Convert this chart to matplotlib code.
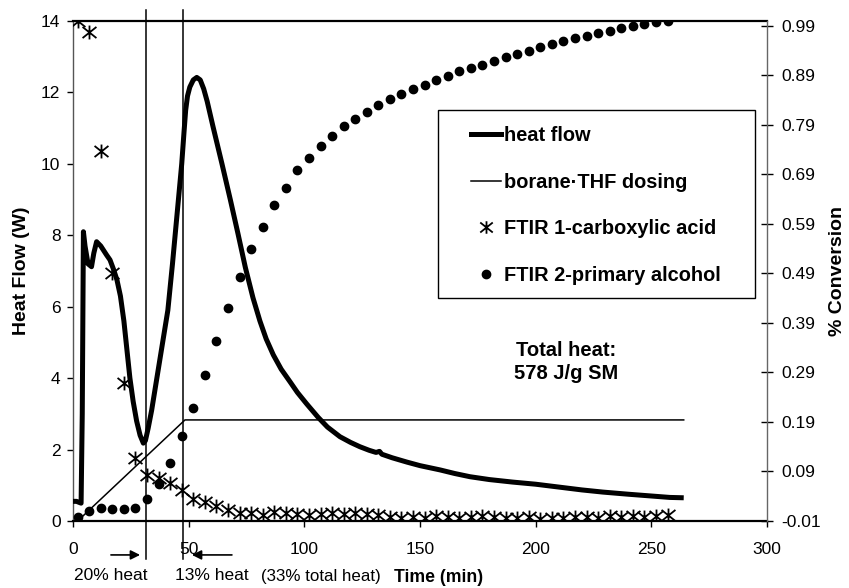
import matplotlib
matplotlib.use("Agg")
import matplotlib.pyplot as plt
from matplotlib.lines import Line2D
from matplotlib.path import Path
from matplotlib.patches import Rectangle

plt.rcParams['font.family'] = ['Liberation Sans', 'DejaVu Sans']

# ---------------- data ----------------
heat_t = [0, 1.5, 3.5, 4.0, 4.5, 5.2, 6.5, 8.0, 9.0, 10.2, 12.0, 14.5, 16.0, 17.5,
          19.0, 20.5, 22.0, 23.3, 24.6, 26.0, 27.5, 29.0, 30.4, 31.3, 32.5, 34.0,
          36.0, 38.5, 41.0, 43.0, 45.0, 47.0, 48.0, 48.7, 49.5, 50.5, 52.0, 53.5,
          55.0, 56.5, 58.0, 60.5, 64.4, 68.0, 71.3, 74.5, 77.8, 80.8, 83.5, 86.6,
          90.0, 93.8, 97.0, 101.0, 106.0, 110.0, 115.4, 120.0, 124.0, 128.0,
          131.0, 132.5, 133.5, 138.0, 144.3, 150.0, 158.7, 165.0, 171.6, 180.0,
          190.0, 200.0, 210.0, 220.0, 229.0, 240.0, 250.0, 258.0, 264.0]
heat_w = [0.55, 0.55, 0.5, 3.0, 8.1, 7.7, 7.2, 7.12, 7.5, 7.82, 7.7, 7.45, 7.31,
          7.05, 6.75, 6.3, 5.6, 4.8, 4.0, 3.35, 2.8, 2.4, 2.18, 2.25, 2.6, 3.1,
          3.9, 4.9, 5.9, 7.2, 8.6, 10.0, 10.9, 11.5, 11.9, 12.15, 12.35, 12.42,
          12.35, 12.1, 11.75, 11.05, 10.0, 9.0, 8.05, 7.1, 6.25, 5.6, 5.1, 4.65,
          4.25, 3.9, 3.6, 3.28, 2.90, 2.63, 2.36, 2.2, 2.08, 1.98, 1.92, 1.95,
          1.87, 1.77, 1.65, 1.55, 1.43, 1.33, 1.24, 1.16, 1.09, 1.03, 0.95,
          0.87, 0.81, 0.75, 0.70, 0.66, 0.65]

dose_t = [2.0, 48.4, 264.0]
dose_v = [0.0, 2.83, 2.83]

ftir_t = [2, 7, 12, 17, 22, 27, 32, 37, 42, 47, 52, 57, 62, 67, 72, 77, 82, 87,
          92, 97, 102, 107, 112, 117, 122, 127, 132, 137, 142, 147, 152, 157,
          162, 167, 172, 177, 182, 187, 192, 197, 202, 207, 212, 217, 222, 227,
          232, 237, 242, 247, 252, 257]

acid = [1.000, 0.978, 0.738, 0.491, 0.268, 0.118, 0.082, 0.077, 0.067, 0.053,
        0.035, 0.028, 0.021, 0.012, 0.006, 0.006, 0.003, 0.009, 0.006, 0.004,
        0.003, 0.004, 0.006, 0.004, 0.007, 0.005, 0.002, -0.001, -0.003, -0.001,
        -0.003, 0.000, -0.001, -0.003, -0.002, 0.001, -0.001, -0.003, -0.004,
        -0.001, -0.005, -0.004, -0.003, -0.001, -0.002, -0.003, 0.000, -0.001,
        0.000, -0.001, 0.000, 0.002]

alcohol = [-0.001, 0.010, 0.016, 0.014, 0.014, 0.017, 0.035, 0.065, 0.108, 0.162,
           0.219, 0.285, 0.354, 0.421, 0.483, 0.539, 0.584, 0.628, 0.663, 0.699,
           0.723, 0.747, 0.768, 0.788, 0.803, 0.817, 0.830, 0.842, 0.852, 0.862,
           0.871, 0.881, 0.889, 0.898, 0.906, 0.911, 0.919, 0.927, 0.933, 0.940,
           0.947, 0.953, 0.960, 0.965, 0.970, 0.976, 0.980, 0.985, 0.990, 0.994,
           0.997, 1.000]

dose_marks = [31.7, 47.6]

x_ticks = [0, 50, 100, 150, 200, 250, 300]
y_ticks = [0, 2, 4, 6, 8, 10, 12, 14]
r_ticks = [-0.01, 0.09, 0.19, 0.29, 0.39, 0.49, 0.59, 0.69, 0.79, 0.89, 0.99]

# Excel-like asterisk marker: X plus vertical bar
AST = Path([(-1, -0.8), (1, 0.8), (-1, 0.8), (1, -0.8), (0, -1), (0, 1)],
           [Path.MOVETO, Path.LINETO, Path.MOVETO, Path.LINETO, Path.MOVETO, Path.LINETO])

# ---------------- figure ----------------
W, H = 849, 588
fig = plt.figure(figsize=(W / 100, H / 100), dpi=100)
L, R, T, B = 73, 767, 21, 521
ax = fig.add_axes([L / W, 1 - B / H, (R - L) / W, (B - T) / H])
ax2 = ax.twinx()

ax.set_xlim(0, 300)
ax.set_ylim(0, 14)
ax2.set_ylim(-0.01, 1.0)

ax.plot(heat_t, heat_w, color='black', lw=3.6, solid_joinstyle='round',
        solid_capstyle='butt', zorder=4)
ax.plot(dose_t, dose_v, color='black', lw=1.1, zorder=3)
for xv in dose_marks:
    ax.plot([xv, xv], [-1.05, 14.3], color='black', lw=1.1, clip_on=False, zorder=3)

ax2.plot(ftir_t, acid, linestyle='none', marker=AST, markersize=10,
         markeredgewidth=1.3, color='black', zorder=5)
ax2.plot(ftir_t, alcohol, linestyle='none', marker='o', markersize=6,
         color='black', zorder=5)

# spines
ax.spines['top'].set_color('black')
ax.spines['bottom'].set_color('black')
ax.spines['top'].set_linewidth(1.6)
ax.spines['bottom'].set_linewidth(1.6)
ax.spines['left'].set_linewidth(1.0)
ax.spines['left'].set_color('#555555')
ax.spines['right'].set_visible(False)
ax2.spines['right'].set_color('#666666')
ax2.spines['right'].set_linewidth(1.0)
for s in ['left', 'top', 'bottom']:
    ax2.spines[s].set_visible(False)

ax.set_xticks(x_ticks)
ax.set_xticklabels([str(v) for v in x_ticks])
ax.set_yticks(y_ticks)
ax.set_yticklabels([str(v) for v in y_ticks])
ax2.set_yticks(r_ticks)
ax2.set_yticklabels(['%.2f' % v for v in r_ticks])

ax.tick_params(axis='x', direction='out', length=4, width=1, pad=11,
               labelsize=12.5, colors='black')
ax.tick_params(axis='y', direction='out', length=4, width=1, pad=5,
               labelsize=12.5, colors='black')
ax2.tick_params(axis='y', direction='inout', length=8, width=1, pad=6,
                labelsize=12.5, colors='black')

ax.set_ylabel('Heat Flow (W)', fontsize=14, fontweight='bold', labelpad=8)
ax2.set_ylabel('% Conversion', fontsize=14, fontweight='bold', labelpad=6)

# legend
handles = [
    Line2D([], [], color='black', lw=3.6),
    Line2D([], [], color='black', lw=1.1),
    Line2D([], [], linestyle='none', marker=AST, markersize=9,
           markeredgewidth=1.3, color='black'),
    Line2D([], [], linestyle='none', marker='o', markersize=6, color='black'),
]
labels = ['heat flow', 'borane\u00b7THF dosing', 'FTIR 1-carboxylic acid',
          'FTIR 2-primary alcohol']
fs_leg = 14.4
leg = ax2.legend(handles, labels, loc='upper left',
                 bbox_to_anchor=(471 / W, 1 - 126 / H),
                 bbox_transform=fig.transFigure, frameon=False,
                 borderaxespad=0, borderpad=0,
                 labelspacing=1.38, handlelength=1.5, handletextpad=0.15,
                 prop={'weight': 'bold', 'size': fs_leg})
leg.set_zorder(10)
fig.patches.append(Rectangle((438 / W, 1 - 298 / H), (755 - 438) / W, (298 - 110) / H,
                             transform=fig.transFigure, fill=False,
                             edgecolor='black', lw=1.0, zorder=10))

# annotations
fig.text(566 / W, 1 - 362 / H, 'Total heat:\n578 J/g SM', ha='center', va='center',
         fontsize=14.5, fontweight='bold', linespacing=1.3)

fig.text(111 / W, 1 - 576 / H, '20% heat', ha='center', va='center', fontsize=12.5)
fig.text(211.5 / W, 1 - 576 / H, '13% heat', ha='center', va='center', fontsize=12.5)
fig.text(321 / W, 1 - 576 / H, '(33% total heat)', ha='center', va='center', fontsize=12.2)
fig.text(439 / W, 1 - 577 / H, 'Time (min)', ha='center', va='center',
         fontsize=12.7, fontweight='bold')

ay = -0.95
ax.annotate('', xy=(29.0, ay), xytext=(16.4, ay), xycoords='data',
            arrowprops=dict(arrowstyle='-|>', color='black', lw=1.2,
                            mutation_scale=14, shrinkA=0, shrinkB=0),
            annotation_clip=False)
ax.annotate('', xy=(51.4, ay), xytext=(68.7, ay), xycoords='data',
            arrowprops=dict(arrowstyle='-|>', color='black', lw=1.2,
                            mutation_scale=14, shrinkA=0, shrinkB=0),
            annotation_clip=False)

fig.savefig('out.png', dpi=100)
